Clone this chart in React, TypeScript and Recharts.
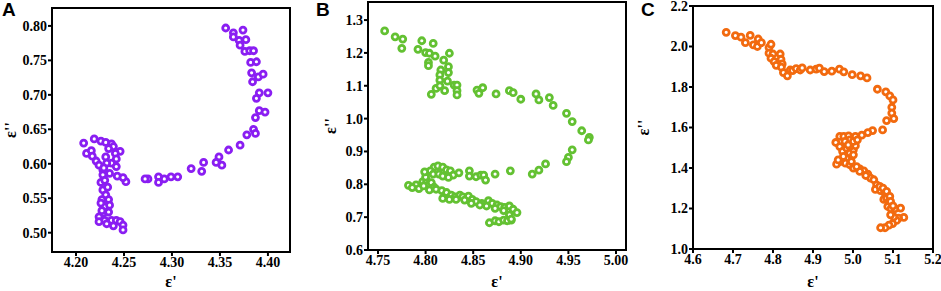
import { Label, ReferenceArea, Scatter, ScatterChart, XAxis, YAxis } from 'recharts';

// panel A (purple)
const aX = [
  4.356, 4.364, 4.364, 4.374, 4.370, 4.371, 4.377, 4.376, 4.381, 4.385, 4.382, 4.388, 4.383, 4.390,
  4.395, 4.384, 4.391, 4.388, 4.400, 4.391, 4.397, 4.387, 4.385, 4.387, 4.378, 4.371, 4.359, 4.349,
  4.352, 4.346, 4.333, 4.331, 4.320, 4.306, 4.299, 4.292, 4.286, 4.286, 4.275, 4.272, 4.252,
  4.208, 4.219, 4.226, 4.231, 4.237, 4.239, 4.246, 4.211, 4.216, 4.217, 4.221, 4.224, 4.241, 4.242,
  4.237, 4.242, 4.231, 4.232, 4.228, 4.228, 4.235, 4.243, 4.249, 4.226, 4.230, 4.228, 4.231, 4.227,
  4.234, 4.230, 4.228, 4.234, 4.224, 4.230, 4.224, 4.237, 4.242, 4.246, 4.249, 4.232, 4.239, 4.249,
  4.234, 4.229, 4.233, 4.226, 4.235, 4.227,
];
const aY = [
  0.797, 0.790, 0.784, 0.794, 0.779, 0.772, 0.780, 0.763, 0.764, 0.764, 0.747, 0.748, 0.732, 0.726,
  0.730, 0.719, 0.703, 0.695, 0.703, 0.677, 0.675, 0.667, 0.650, 0.644, 0.642, 0.627, 0.620, 0.610,
  0.598, 0.602, 0.602, 0.589, 0.593, 0.581, 0.581, 0.578, 0.581, 0.573, 0.578, 0.578, 0.574,
  0.630, 0.636, 0.633, 0.631, 0.629, 0.625, 0.618, 0.615, 0.619, 0.611, 0.604, 0.598, 0.615, 0.607,
  0.601, 0.596, 0.610, 0.601, 0.591, 0.584, 0.586, 0.582, 0.580, 0.573, 0.576, 0.562, 0.555, 0.548,
  0.548, 0.538, 0.528, 0.530, 0.523, 0.518, 0.516, 0.518, 0.518, 0.516, 0.511, 0.513, 0.510, 0.504,
  0.622, 0.594, 0.566, 0.543, 0.540, 0.532,
];

// panel B (green)
const bX = [
  4.757, 4.768, 4.776, 4.775, 4.796, 4.792, 4.808, 4.800, 4.804, 4.810, 4.803, 4.803, 4.825, 4.819,
  4.824, 4.824, 4.816, 4.815, 4.815, 4.823, 4.806, 4.811, 4.815, 4.820, 4.830, 4.833, 4.833, 4.833,
  4.854, 4.856, 4.860, 4.874, 4.888, 4.892, 4.900, 4.916, 4.919, 4.930, 4.934, 4.948, 4.954, 4.964,
  4.972, 4.971, 4.954, 4.950, 4.948, 4.926, 4.919, 4.912,
  4.809, 4.813, 4.818, 4.822, 4.826, 4.829, 4.835, 4.846, 4.846, 4.853, 4.858, 4.861, 4.863, 4.873,
  4.889, 4.805, 4.808, 4.814, 4.818, 4.824, 4.790, 4.797, 4.801, 4.803, 4.806, 4.809, 4.804, 4.811,
  4.817, 4.822, 4.827, 4.831, 4.836, 4.839, 4.845, 4.849, 4.853, 4.859, 4.866, 4.870, 4.875, 4.879,
  4.883, 4.888, 4.892, 4.896, 4.818, 4.825, 4.832, 4.841, 4.848, 4.857, 4.864, 4.873, 4.882, 4.888,
  4.890, 4.867, 4.873, 4.877, 4.882, 4.886, 4.890, 4.782, 4.786, 4.793, 4.798, 4.800, 4.799,
];
const bY = [
  1.267, 1.249, 1.242, 1.214, 1.237, 1.211, 1.229, 1.201, 1.199, 1.190, 1.171, 1.161, 1.199, 1.178,
  1.158, 1.140, 1.148, 1.133, 1.117, 1.114, 1.074, 1.092, 1.100, 1.085, 1.102, 1.102, 1.085, 1.072,
  1.087, 1.077, 1.094, 1.075, 1.085, 1.079, 1.059, 1.075, 1.057, 1.064, 1.040, 1.016, 0.991, 0.963,
  0.943, 0.935, 0.905, 0.882, 0.869, 0.862, 0.843, 0.831,
  0.852, 0.856, 0.852, 0.844, 0.841, 0.828, 0.835, 0.841, 0.825, 0.823, 0.828, 0.828, 0.813, 0.831,
  0.841, 0.841, 0.831, 0.831, 0.825, 0.821, 0.798, 0.808, 0.811, 0.798, 0.805, 0.791, 0.783, 0.785,
  0.781, 0.775, 0.767, 0.762, 0.767, 0.762, 0.764, 0.754, 0.747, 0.742, 0.750, 0.742, 0.737, 0.732,
  0.730, 0.734, 0.724, 0.714, 0.757, 0.754, 0.754, 0.752, 0.742, 0.737, 0.734, 0.727, 0.720, 0.707,
  0.691, 0.683, 0.689, 0.686, 0.691, 0.689, 0.694, 0.797, 0.790, 0.787, 0.795, 0.822, 0.838,
];

// panel C (orange)
const cX = [
  4.683, 4.706, 4.720, 4.743, 4.731, 4.763, 4.751, 4.761, 4.771, 4.790, 4.795, 4.790, 4.800, 4.795,
  4.803, 4.818, 4.820, 4.808, 4.823, 4.821, 4.826, 4.836, 4.843, 4.849, 4.858, 4.868, 4.873, 4.893,
  4.908, 4.916, 4.928, 4.947, 4.966, 4.977, 4.998, 5.019, 5.035, 5.061, 5.082, 5.092, 5.100, 5.097,
  5.097, 5.102, 5.084, 5.074, 5.049, 5.037, 5.022, 5.006, 4.957, 4.967, 4.977, 4.989, 4.992, 4.980,
  4.967, 4.974, 4.984, 4.992, 5.001, 5.006, 4.984, 4.981, 4.967, 4.959, 4.963, 4.992, 5.001, 5.017,
  5.027, 5.037, 5.044, 5.052, 5.059, 5.064, 5.056, 5.069, 5.079, 5.077, 5.084, 5.090, 5.087, 5.095,
  5.105, 5.119, 5.127, 5.114, 5.109, 5.099, 5.090, 5.080, 5.069, 5.102, 5.094, 5.067, 5.075, 5.084,
  5.092, 5.094, 5.100, 5.032, 5.017, 5.009, 4.996, 5.001, 4.992, 5.001, 5.011, 4.976, 4.988,
];
const cY = [
  2.070, 2.054, 2.046, 2.055, 2.019, 2.037, 2.008, 2.000, 2.019, 1.995, 2.011, 1.967, 1.963, 1.942,
  1.925, 1.963, 1.937, 1.907, 1.914, 1.898, 1.871, 1.855, 1.884, 1.881, 1.891, 1.884, 1.894, 1.884,
  1.888, 1.893, 1.876, 1.878, 1.888, 1.875, 1.861, 1.855, 1.845, 1.789, 1.776, 1.756, 1.736, 1.700,
  1.671, 1.644, 1.634, 1.588, 1.585, 1.575, 1.562, 1.556, 1.526, 1.556, 1.556, 1.559, 1.539, 1.531,
  1.506, 1.482, 1.498, 1.473, 1.490, 1.510, 1.449, 1.424, 1.432, 1.419, 1.440, 1.416, 1.399, 1.396,
  1.386, 1.370, 1.350, 1.342, 1.317, 1.301, 1.294, 1.288, 1.278, 1.245, 1.251, 1.235, 1.210, 1.199,
  1.199, 1.202, 1.156, 1.152, 1.141, 1.125, 1.118, 1.105, 1.105, 1.159, 1.169, 1.309, 1.301, 1.285,
  1.260, 1.235, 1.213, 1.363, 1.383, 1.407, 1.432, 1.465, 1.506, 1.531, 1.539, 1.457, 1.514,
];

const aXTicks = [4.2, 4.25, 4.3, 4.35, 4.4];
const aYTicks = [0.5, 0.55, 0.6, 0.65, 0.7, 0.75, 0.8];
const bXTicks = [4.75, 4.8, 4.85, 4.9, 4.95, 5.0];
const bYTicks = [0.6, 0.7, 0.8, 0.9, 1.0, 1.1, 1.2, 1.3];
const cXTicks = [4.6, 4.7, 4.8, 4.9, 5.0, 5.1, 5.2];
const cYTicks = [1.0, 1.2, 1.4, 1.6, 1.8, 2.0, 2.2];

const tickFont = { fontFamily: 'Liberation Serif', fontWeight: 'bold', fontSize: 14, fill: '#000' };
const titleFont = { fontFamily: 'Liberation Serif', fontWeight: 'bold', fontSize: 16, fill: '#000' };

type Pt = { x: number; y: number };
const zip = (xs: number[], ys: number[]): Pt[] => xs.map((x, i) => ({ x, y: ys[i] }));

function Panel(props: {
  left: number;
  width: number;
  top: number;
  right: number;
  yWidth: number;
  xHeight: number;
  xDomain: [number, number];
  yDomain: [number, number];
  xTicks: number[];
  yTicks: number[];
  xDigits: number;
  yDigits: number;
  data: Pt[];
  color: string;
  letter: string;
  letterX: number;
  yTitleDx: number;
}) {
  const p = props;
  const ring = (s: any) => (
    <circle cx={s.cx} cy={s.cy} r={3} fill="#fff" stroke={p.color} strokeWidth={2.8} />
  );
  return (
    <div style={{ position: 'absolute', left: p.left, top: 0 }}>
      <ScatterChart width={p.width} height={291} margin={{ top: p.top, right: p.right, bottom: 0, left: 0 }}>
        <XAxis
          dataKey="x"
          type="number"
          domain={p.xDomain}
          ticks={p.xTicks}
          interval={0}
          height={p.xHeight}
          stroke="#000"
          strokeWidth={2}
          tickSize={4}
          tickMargin={1}
          tick={tickFont}
          tickFormatter={(v: number) => v.toFixed(p.xDigits)}
        >
          <Label value="ε'" position="insideBottom" offset={4} style={titleFont} />
        </XAxis>
        <YAxis
          dataKey="y"
          type="number"
          domain={p.yDomain}
          ticks={p.yTicks}
          interval={0}
          width={p.yWidth}
          stroke="#000"
          strokeWidth={2}
          tickSize={4}
          tickMargin={1}
          tick={tickFont}
          tickFormatter={(v: number) => v.toFixed(p.yDigits)}
        >
          <Label value="ε''" angle={-90} position="insideLeft" offset={p.yTitleDx} style={{ ...titleFont, textAnchor: 'middle' }} />
        </YAxis>
        <ReferenceArea x1={p.xDomain[0]} x2={p.xDomain[1]} y1={p.yDomain[0]} y2={p.yDomain[1]} fill="none" stroke="#000" strokeWidth={2} />
        <Scatter data={p.data} isAnimationActive={false} shape={ring} />
      </ScatterChart>
      <div style={{ position: 'absolute', left: p.letterX, top: 0, fontFamily: 'Liberation Sans', fontWeight: 'bold', fontSize: 19, lineHeight: '20px' }}>
        {p.letter}
      </div>
    </div>
  );
}

// plot frames drawn as plain boxes over each plot area
function Frame({ left, top, width, height }: { left: number; top: number; width: number; height: number }) {
  return (
    <div
      style={{
        position: 'absolute',
        left: left - 1,
        top: top - 1,
        width: width + 2,
        height: height + 2,
        border: '2px solid #000',
        boxSizing: 'border-box',
        pointerEvents: 'none',
      }}
    />
  );
}

export default function App() {
  return (
    <div style={{ position: 'absolute', left: 0, top: 0, width: 941, height: 291, background: '#fff' }}>
      <Panel
        left={0}
        width={300}
        top={8}
        right={10}
        yWidth={52}
        xHeight={39}
        xDomain={[4.175, 4.423]}
        yDomain={[0.472, 0.826]}
        xTicks={aXTicks}
        yTicks={aYTicks}
        xDigits={2}
        yDigits={2}
        data={zip(aX, aY)}
        color="#8a1ef2"
        letter="A"
        letterX={2}
        yTitleDx={10}
      />
      <Panel
        left={300}
        width={330}
        top={2}
        right={4}
        yWidth={68}
        xHeight={41}
        xDomain={[4.7395, 5.0105]}
        yDomain={[0.6, 1.355]}
        xTicks={bXTicks}
        yTicks={bYTicks}
        xDigits={2}
        yDigits={1}
        data={zip(bX, bY)}
        color="#63c132"
        letter="B"
        letterX={16}
        yTitleDx={30}
      />
      <Panel
        left={630}
        width={311}
        top={6}
        right={8}
        yWidth={63}
        xHeight={42}
        xDomain={[4.6, 5.2]}
        yDomain={[1.0, 2.2]}
        xTicks={cXTicks}
        yTicks={cYTicks}
        xDigits={1}
        yDigits={1}
        data={zip(cX, cY)}
        color="#f26a0f"
        letter="C"
        letterX={11}
        yTitleDx={13}
      />
      <Frame left={52} top={8} width={238} height={244} />
      <Frame left={368} top={2} width={258} height={248} />
      <Frame left={693} top={6} width={240} height={243} />
    </div>
  );
}
